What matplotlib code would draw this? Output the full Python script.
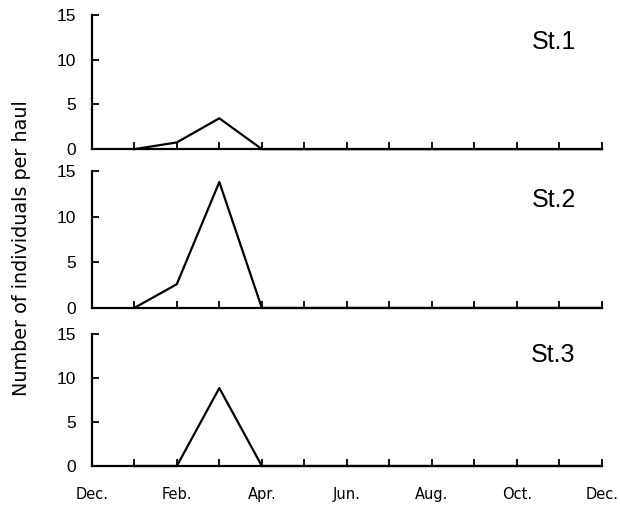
import matplotlib
matplotlib.use("Agg")
import matplotlib.pyplot as plt

plt.rcParams['font.family'] = ['Liberation Sans', 'DejaVu Sans']

months = list(range(13))  # Dec .. Dec
month_labels = ["Dec.", "", "Feb.", "", "Apr.", "", "Jun.", "", "Aug.", "", "Oct.", "", "Dec."]
data_months = list(range(1, 13))  # Jan .. Dec
st1 = [0, 0.75, 3.45, 0, 0, 0, 0, 0, 0, 0, 0, 0]
st2 = [0, 2.6, 13.8, 0, 0, 0, 0, 0, 0, 0, 0, 0]
st3 = [0, 0, 8.85, 0, 0, 0, 0, 0, 0, 0, 0, 0]
series = [("St.1", st1), ("St.2", st2), ("St.3", st3)]
yticks = [0, 5, 10, 15]

fig = plt.figure(figsize=(6.2, 5.09), dpi=100)
rects = [
    [0.148, 0.707, 0.823, 0.2635],
    [0.148, 0.395, 0.823, 0.269],
    [0.148, 0.0845, 0.823, 0.2595],
]
label_pos = [0.80, 0.79, 0.84]
for i, ((name, vals), r) in enumerate(zip(series, rects)):
    ax = fig.add_axes(r)
    ax.plot(data_months, vals, color="black", lw=1.6, clip_on=False)
    ax.set_xlim(0, 12)
    ax.set_ylim(0, 15)
    ax.spines['top'].set_visible(False)
    ax.spines['right'].set_visible(False)
    for s in ('left', 'bottom'):
        ax.spines[s].set_linewidth(1.6)
    ax.set_yticks(yticks)
    ax.set_xticks(months)
    ax.tick_params(axis='both', direction='in', length=5, width=1.3, labelsize=12.5)
    ax.tick_params(axis='y', pad=11)
    if i == 2:
        ax.set_xticklabels(month_labels, fontsize=10.5, family='DejaVu Sans')
        ax.tick_params(axis='x', pad=15)
    else:
        ax.set_xticklabels([])
    ax.text(0.905, label_pos[i], name, transform=ax.transAxes, fontsize=18,
            ha='center', va='center')

fig.text(0.035, 0.513, "Number of individuals per haul", rotation=90,
         ha='center', va='center', fontsize=13.8, family='DejaVu Sans')

fig.savefig("out.png", dpi=100)
